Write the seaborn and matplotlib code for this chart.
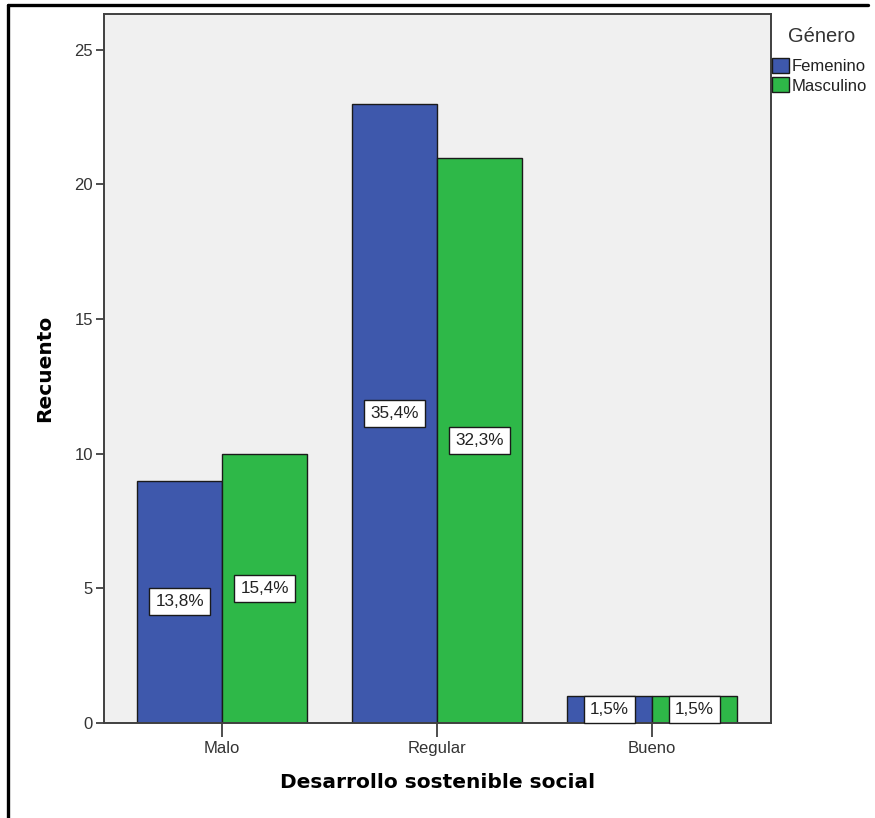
import matplotlib
matplotlib.use("Agg")
import matplotlib.pyplot as plt
from matplotlib.lines import Line2D
import seaborn as sns
import pandas as pd

categories = ["Malo", "Regular", "Bueno"]
genders = ["Femenino", "Masculino"]
femenino = [9, 23, 1]
masculino = [10, 21, 1]
pct_femenino = ["13,8%", "35,4%", "1,5%"]
pct_masculino = ["15,4%", "32,3%", "1,5%"]
yticks = [0, 5, 10, 15, 20, 25]

df = pd.DataFrame({
    "Desarrollo sostenible social": categories * 2,
    "Género": [genders[0]] * 3 + [genders[1]] * 3,
    "Recuento": femenino + masculino,
})
labels = {genders[0]: pct_femenino, genders[1]: pct_masculino}

sns.set_theme(style="white")
plt.rcParams["font.family"] = ["Liberation Sans", "DejaVu Sans"]

fig = plt.figure(figsize=(8.75, 8.18), dpi=100)
W, H = 875, 818
ax = fig.add_axes([104 / W, 1 - 723 / H, (771 - 104) / W, (723 - 14) / H])
ax.set_facecolor("#F0F0F0")

palette = {"Femenino": "#3E58AC", "Masculino": "#2EB848"}
sns.barplot(data=df, x="Desarrollo sostenible social", y="Recuento",
            hue="Género", order=categories, hue_order=genders,
            palette=palette, width=0.79, edgecolor="#1a1a1a",
            linewidth=1.0, saturation=1, ax=ax, legend=True)

ax.set_xlim(-0.549, 2.553)
ax.set_ylim(0, 26.33)
ax.set_yticks(yticks)
ax.set_yticklabels([str(t) for t in yticks])

for cont, g in zip(ax.containers, genders):
    for patch, txt in zip(cont.patches, labels[g]):
        cx = patch.get_x() + patch.get_width() / 2
        cy = patch.get_height() / 2
        ax.text(cx, cy, txt, ha="center", va="center", fontsize=12.3,
                color="#222222", zorder=5, clip_on=False,
                bbox=dict(boxstyle="square,pad=0.36", fc="white",
                          ec="#1a1a1a", lw=1.0))

for s in ax.spines.values():
    s.set_color("#404040")
    s.set_linewidth(1.4)

ax.tick_params(axis="y", direction="out", length=6, width=1.3,
               color="#404040", labelsize=12, labelcolor="#333333", pad=2,
               left=True)
ax.tick_params(axis="x", direction="out", length=10, width=1.3,
               color="#404040", labelsize=12, labelcolor="#333333", pad=3,
               bottom=True)

ax.set_xlabel("Desarrollo sostenible social", fontsize=14.5,
              fontweight="bold", color="black", family="DejaVu Sans",
              va="center")
ax.set_ylabel("Recuento", fontsize=14.5, fontweight="bold", color="black",
              family="DejaVu Sans", va="center")
ax.xaxis.set_label_coords(0.5, -(783 - 723) / 709)
ax.yaxis.set_label_coords((45 - 104) / 667, 0.5)

# legend placed to the right of the plot area, title drawn separately
handles, names = ax.get_legend_handles_labels()
ax.get_legend().remove()
fig.text(822 / W, 1 - 36 / H, "Género", ha="center", va="center",
         fontsize=14.5, color="#333333")
leg = fig.legend(handles, names, loc="upper left",
                 bbox_to_anchor=(772 / W, 1 - 58 / H), frameon=False,
                 fontsize=12, handlelength=1.0, handleheight=1.0,
                 handletextpad=0.2, labelspacing=0.2, borderpad=0.0,
                 borderaxespad=0.0)
for t in leg.get_texts():
    t.set_color("#222222")
for h in leg.legend_handles:
    h.set_edgecolor("#1a1a1a")
    h.set_linewidth(1.0)

# page frame along the top and left edges
fig.add_artist(Line2D([8 / W, 868 / W], [1 - 5 / H, 1 - 5 / H],
                      color="black", lw=2.4, transform=fig.transFigure))
fig.add_artist(Line2D([8 / W, 8 / W], [1 - 5 / H, 0],
                      color="black", lw=2.4, transform=fig.transFigure))

fig.savefig("out.png", dpi=100, facecolor="white")
